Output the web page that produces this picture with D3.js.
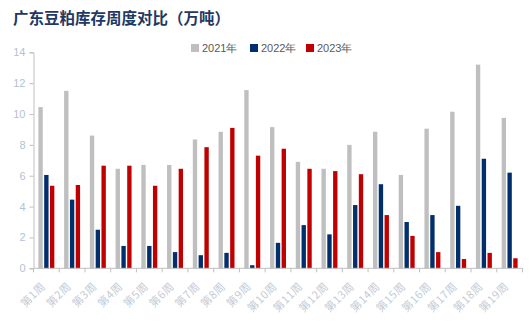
<!DOCTYPE html>
<html>
<head>
<meta charset="utf-8">
<script src="https://cdn.jsdelivr.net/npm/d3@7/dist/d3.min.js"></script>
<style>
  html, body { margin: 0; padding: 0; background: #fff; }
  svg { display: block; }
</style>
</head>
<body>
<svg id="chart" width="530" height="322"></svg>
<script>
// Weekly soybean meal inventory in Guangdong (10k tonnes)
const weeks = ["第1周","第2周","第3周","第4周","第5周","第6周","第7周","第8周","第9周","第10周",
               "第11周","第12周","第13周","第14周","第15周","第16周","第17周","第18周","第19周"];
const seriesNames = ["2021年", "2022年", "2023年"];
const values2021 = [10.45, 11.5, 8.6, 6.45, 6.7, 6.7, 8.35, 8.85, 11.55, 9.15, 6.9, 6.45, 8.0, 8.85, 6.05, 9.05, 10.15, 13.2, 9.75];
const values2022 = [6.05, 4.45, 2.5, 1.45, 1.45, 1.05, 0.85, 1.0, 0.2, 1.65, 2.8, 2.2, 4.1, 5.45, 3.0, 3.45, 4.05, 7.1, 6.2];
const values2023 = [5.35, 5.4, 6.65, 6.65, 5.35, 6.45, 7.85, 9.1, 7.3, 7.75, 6.45, 6.3, 6.1, 3.45, 2.1, 1.05, 0.6, 1.0, 0.65];
const yTicks = [0, 2, 4, 6, 8, 10, 12, 14];
const colors = ["#bfbfbf", "#002f6c", "#c00000"];

const rows = weeks.map((w, i) => ({
  week: w,
  vals: [values2021[i], values2022[i], values2023[i]]
}));

const svg = d3.select("#chart");
const plotLeft = 33.5, plotRight = 522.5, plotTop = 52.3, plotBottom = 268.3;

const x0 = d3.scaleBand().domain(weeks).range([plotLeft, plotRight]).padding(0);
const bw = x0.bandwidth();
const x1 = d3.scaleBand().domain(seriesNames)
  .range([bw * 0.19, bw * 0.81]).paddingInner(0.25).paddingOuter(0);
const y = d3.scaleLinear().domain([0, 14]).range([plotBottom, plotTop]);

// Title
svg.append("text")
  .attr("x", 13).attr("y", 24)
  .attr("font-family", "'Noto Sans CJK SC', sans-serif")
  .attr("font-weight", 700)
  .attr("font-size", 15.5)
  .attr("fill", "#1f3864")
  .text("广东豆粕库存周度对比（万吨）");

// Legend
const legend = svg.append("g").attr("transform", "translate(191,48)");
const legendX = [0, 59, 115];
seriesNames.forEach((name, i) => {
  const g = legend.append("g").attr("transform", `translate(${legendX[i]},0)`);
  g.append("rect").attr("x", 0).attr("y", -4).attr("width", 8).attr("height", 8).attr("fill", colors[i]);
  g.append("text").attr("x", 11).attr("y", 0).attr("dy", "0.36em")
    .attr("font-family", "'Liberation Sans', Arial, sans-serif")
    .attr("font-size", 11).attr("fill", "#595959")
    .text(name);
});

// Bars
const groups = svg.append("g").selectAll("g").data(rows).join("g")
  .attr("transform", d => `translate(${x0(d.week)},0)`);
groups.selectAll("rect")
  .data(d => d.vals.map((v, i) => ({ key: seriesNames[i], v, i })))
  .join("rect")
  .attr("x", d => x1(d.key))
  .attr("width", x1.bandwidth())
  .attr("y", d => y(d.v))
  .attr("height", d => y(0) - y(d.v))
  .attr("fill", d => colors[d.i]);

// Y axis
const yAxis = d3.axisLeft(y).tickValues(yTicks).tickSize(4).tickPadding(4).tickFormat(d3.format("d"));
const yg = svg.append("g").attr("transform", `translate(${plotLeft},0)`).call(yAxis);
yg.select(".domain").attr("stroke", "#bfbfbf");
yg.selectAll(".tick line").attr("stroke", "#bfbfbf");
yg.selectAll(".tick text")
  .attr("font-family", "'Liberation Sans', Arial, sans-serif")
  .attr("font-size", 11).attr("fill", "#b4c2d4");

// X axis with ticks at band boundaries
const xg = svg.append("g").attr("transform", `translate(0,${plotBottom})`);
xg.append("line").attr("x1", plotLeft).attr("x2", plotRight).attr("y1", 0).attr("y2", 0)
  .attr("stroke", "#bfbfbf");
const bounds = weeks.map(w => x0(w)).concat([plotRight]);
xg.selectAll("line.tk").data(bounds).join("line").attr("class", "tk")
  .attr("x1", d => d).attr("x2", d => d).attr("y1", 0).attr("y2", 4)
  .attr("stroke", "#bfbfbf");
xg.selectAll("text").data(weeks).join("text")
  .attr("transform", d => `translate(${x0(d) + bw / 2 - 3},${16}) rotate(-45)`)
  .attr("text-anchor", "end")
  .attr("dy", "0.35em")
  .attr("font-family", "'Noto Sans CJK SC', sans-serif")
  .attr("font-size", 11)
  .attr("letter-spacing", 0.5)
  .attr("fill", "#c3cbd6")
  .text(d => d);
</script>
</body>
</html>
